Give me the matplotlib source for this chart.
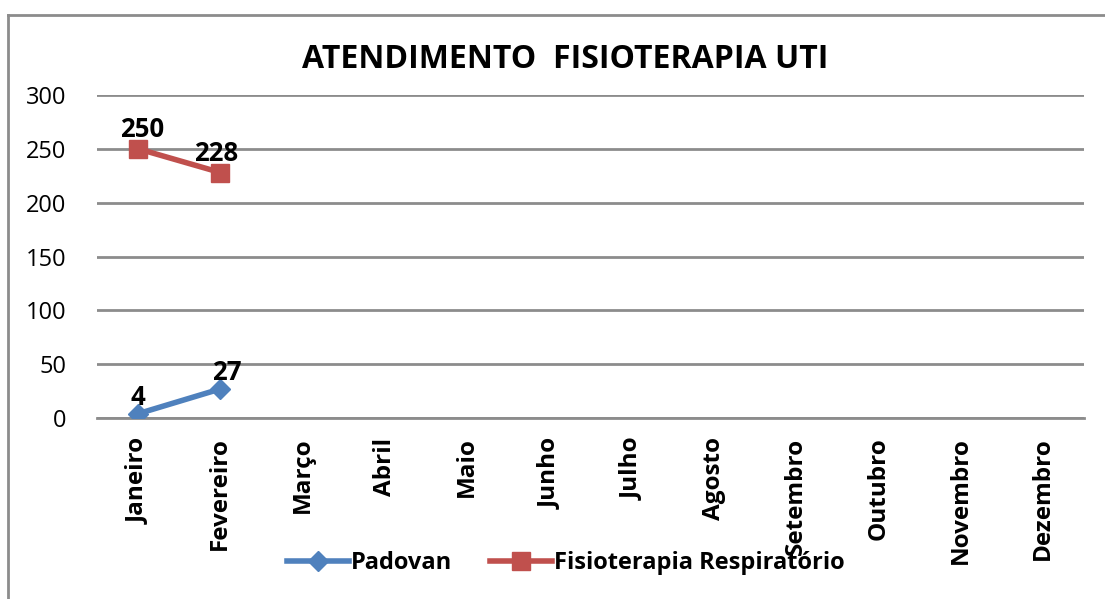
import numpy as np
import matplotlib
matplotlib.use('agg')
import matplotlib.pyplot as plt
from matplotlib.lines import Line2D

plt.rcParams['font.family'] = ['Open Sans', 'DejaVu Sans']

months = ['Janeiro', 'Fevereiro', 'Março', 'Abril', 'Maio', 'Junho',
          'Julho', 'Agosto', 'Setembro', 'Outubro', 'Novembro', 'Dezembro']
padovan = [4, 27]
fisio_resp = [250, 228]
yticks = [0, 50, 100, 150, 200, 250, 300]

blue = '#4F81BD'
red = '#C0504D'

fig = plt.figure(figsize=(11.05, 5.99), dpi=100)
ax = fig.add_axes([97/1105, 1-418/599, (1084-97)/1105, (418-95)/599])

x = np.arange(len(months))
ax.plot(x[:len(padovan)], padovan, color=blue, lw=4, marker='D', ms=10,
        label='Padovan', zorder=3)
ax.plot(x[:len(fisio_resp)], fisio_resp, color=red, lw=4, marker='s', ms=13,
        label='Fisioterapia Respiratório', zorder=3)

# small horizontal nudges to mimic the label placement of the original
pad_dx = [0, 5]
resp_dx = [3, -3]
for xi, v, dx in zip(x, padovan, pad_dx):
    ax.annotate(str(v), (xi, v), xytext=(dx, 2), textcoords='offset points',
                ha='center', va='bottom', fontsize=18.5, fontweight='bold')
for xi, v, dx in zip(x, fisio_resp, resp_dx):
    ax.annotate(str(v), (xi, v), xytext=(dx, 4), textcoords='offset points',
                ha='center', va='bottom', fontsize=18.5, fontweight='bold')

ax.set_xlim(-0.5, len(months) - 0.5)
ax.set_ylim(0, 300)
ax.set_yticks(yticks)
ax.set_yticklabels([str(t) for t in yticks], fontsize=17)
ax.set_xticks(x)
ax.set_xticklabels(months, rotation=90, fontsize=17.5, fontweight='bold')
ax.tick_params(axis='both', length=0)
ax.tick_params(axis='y', pad=22)
ax.tick_params(axis='x', pad=14)
ax.grid(axis='y', color='#8c8c8c', lw=2)
ax.set_axisbelow(True)
for s in ['top', 'right', 'left']:
    ax.spines[s].set_visible(False)
ax.spines['bottom'].set_color('#8c8c8c')
ax.spines['bottom'].set_linewidth(2)

fig.text(565/1105, 1-60/599, 'ATENDIMENTO  FISIOTERAPIA UTI', ha='center',
         va='center', fontsize=23, fontweight='bold')

leg = fig.legend(loc='center', bbox_to_anchor=(566/1105, 1-563/599), ncol=2,
                 frameon=False, handlelength=2.6, columnspacing=1.6,
                 handletextpad=0.1, prop={'size': 17, 'weight': 'bold'})

# outer chart border (left and top only visible)
fig.add_artist(Line2D([8/1105, 8/1105], [0, 1-15/599], color='#8c8c8c', lw=2))
fig.add_artist(Line2D([8/1105, 1], [1-15/599, 1-15/599], color='#8c8c8c', lw=2))

fig.savefig('out.png', dpi=100)
